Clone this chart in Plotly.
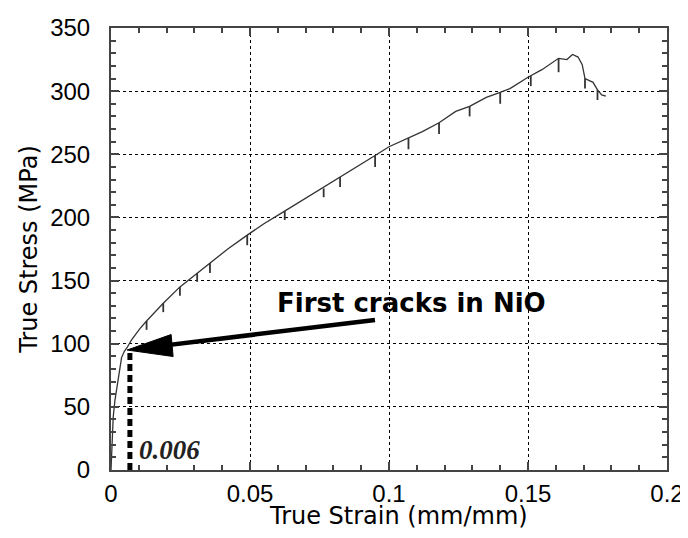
import plotly.graph_objects as go

# Main stress-strain curve
curve_strain = [0, 0.0004, 0.0008, 0.0014, 0.0026, 0.0038, 0.0048, 0.0058, 0.0074, 0.0104,
                0.0128, 0.0188, 0.0248, 0.031, 0.0356, 0.042, 0.049, 0.055, 0.061, 0.067,
                0.073, 0.079, 0.085, 0.090, 0.095, 0.100, 0.107, 0.112, 0.118, 0.124,
                0.129, 0.135, 0.140, 0.1435, 0.150, 0.155, 0.161, 0.164, 0.166, 0.168,
                0.1695, 0.1705, 0.1734, 0.175, 0.1765, 0.178]
curve_stress = [0, 28, 42, 55, 74, 89, 94, 97, 103, 112,
                118, 132, 145, 156, 164, 175, 186, 195, 203, 211,
                219, 227, 235, 242, 249, 256, 263, 268, 275, 284,
                288, 295, 299, 302, 311, 317, 326, 325, 329, 327,
                321, 310, 307, 301, 297, 296]

# Small unloading serrations along the curve
spike_strain = [0.0128, 0.0188, 0.0248, 0.031, 0.0356, 0.049, 0.0625, 0.0765, 0.0824,
                0.095, 0.107, 0.118, 0.129, 0.140, 0.151, 0.161, 0.1705, 0.175]
spike_top = [118, 132, 145, 156, 164, 186, 205, 223, 232,
             249, 263, 275, 288, 299, 312, 326, 310, 301]
spike_bottom = [111, 125, 138, 149, 156, 178, 198, 216, 224,
                240, 254, 266, 280, 290, 304, 315, 302, 293]

# Annotation data
crack_strain = 0.0068
crack_stress = 95
arrow_tip = (0.0058, 95)
arrow_tail = (0.0955, 119)
label_text = "First cracks in NiO"
label_pos = (0.108, 132)
value_text = "0.006"
value_pos = (0.0212, 16)

x_ticks = [0, 0.05, 0.1, 0.15, 0.2]
x_ticklabels = ["0", "0.05", "0.1", "0.15", "0.2"]
y_ticks = [0, 50, 100, 150, 200, 250, 300, 350]

fig = go.Figure()

fig.add_trace(go.Scatter(x=curve_strain, y=curve_stress, mode="lines",
                         line=dict(color="#333333", width=1.3), showlegend=False))

sx, sy = [], []
for s, t, b in zip(spike_strain, spike_top, spike_bottom):
    sx += [s, s, None]
    sy += [t, b, None]
fig.add_trace(go.Scatter(x=sx, y=sy, mode="lines",
                         line=dict(color="#333333", width=1.8), showlegend=False))

# dashed vertical marker
fig.add_trace(go.Scatter(x=[crack_strain, crack_strain], y=[0, crack_stress], mode="lines",
                         line=dict(color="black", width=5, dash="7px,4px"), showlegend=False))

# arrow shaft
fig.add_annotation(x=arrow_tip[0], y=arrow_tip[1], ax=arrow_tail[0], ay=arrow_tail[1],
                   xref="x", yref="y", axref="x", ayref="y", text="", standoff=20,
                   showarrow=True, arrowhead=0, arrowwidth=4.5, arrowcolor="black")
# long pointed arrow head, anchored at the tip (pixel-sized)
fig.add_shape(type="path", xref="x", yref="y", xsizemode="pixel", ysizemode="pixel",
              xanchor=arrow_tip[0], yanchor=arrow_tip[1],
              path="M0,0 L46,-6.5 L44,15.5 Z", fillcolor="black", line=dict(color="black", width=1))

fig.add_annotation(x=label_pos[0], y=label_pos[1], text="<b>" + label_text + "</b>",
                   showarrow=False, font=dict(family="DejaVu Sans", size=26, color="black"))

fig.add_annotation(x=value_pos[0], y=value_pos[1], text="<b><i>" + value_text + "</i></b>",
                   showarrow=False, font=dict(family="Liberation Serif, Times New Roman", size=27, color="#222"))

# x axis title placed just below the tick labels
fig.add_annotation(x=0.5, y=0, xref="paper", yref="paper", yanchor="top", xshift=9, yshift=-30,
                   text="True Strain (mm/mm)", showarrow=False,
                   font=dict(family="DejaVu Sans", size=24, color="black"))

axis_common = dict(
    showline=True, linecolor="#444", linewidth=2, mirror="ticks",
    ticks="inside", ticklen=8, tickwidth=1.5, tickcolor="#444",
    showgrid=True, gridcolor="black", gridwidth=1, griddash="dot",
    zeroline=False, automargin=False,
    tickfont=dict(family="Liberation Sans, Arial", size=24, color="black"),
)

fig.update_xaxes(range=[0, 0.2], tickvals=x_ticks, ticktext=x_ticklabels,
                 ticklabelstandoff=1,
                 minor=dict(dtick=0.01, ticks="inside", ticklen=5, tickcolor="#444", showgrid=False),
                 **axis_common)
fig.update_yaxes(range=[0, 350], tickvals=y_ticks,
                 ticklabelstandoff=14,
                 minor=dict(dtick=10, ticks="inside", ticklen=5, tickcolor="#444", showgrid=False),
                 title=dict(text="True Stress (MPa)", standoff=6,
                            font=dict(family="DejaVu Sans", size=24, color="black")),
                 **axis_common)

# page body has an 8px margin, so the figure is 8px smaller and margins shifted
fig.update_layout(width=680, height=530, margin=dict(l=103, r=21, t=20, b=68),
                  plot_bgcolor="white", paper_bgcolor="white", showlegend=False)

fig.write_html("out.html")
